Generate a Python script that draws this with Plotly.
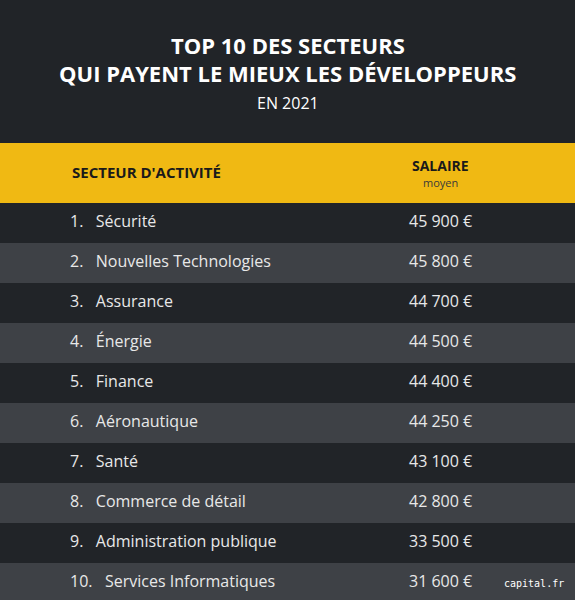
import plotly.graph_objects as go

rangs = [1, 2, 3, 4, 5, 6, 7, 8, 9, 10]
secteurs = ["Sécurité", "Nouvelles Technologies", "Assurance", "Énergie", "Finance",
            "Aéronautique", "Santé", "Commerce de détail", "Administration publique",
            "Services Informatiques"]
salaires = [45900, 45800, 44700, 44500, 44400, 44250, 43100, 42800, 33500, 31600]

bg = "#212428"
alt = "#3e4146"
jaune = "#f0b913"
nb = "\u00a0"

labels = [f"{r}.{nb*3}{s}" for r, s in zip(rangs, secteurs)]
montants = [f"{v:,}".replace(",", nb) + nb + "€" for v in salaires]
fills = [bg if i % 2 == 0 else alt for i in range(len(rangs))]

fig = go.Figure()
# bandes de lignes
fig.add_trace(go.Bar(y=rangs, x=[575] * len(rangs), orientation="h", width=1,
                     marker=dict(color=fills, line_width=0), hoverinfo="skip"))
fig.add_trace(go.Scatter(y=rangs, x=[70] * len(rangs), text=labels, mode="text",
                         textposition="middle right",
                         textfont=dict(family="Open Sans", size=16, color="#e8e8e8")))
fig.add_trace(go.Scatter(y=rangs, x=[409] * len(rangs), text=montants, mode="text",
                         textposition="middle right",
                         textfont=dict(family="Open Sans", size=16, color="#e8e8e8")))

fig.update_layout(
    width=575, height=600, margin=dict(l=0, r=0, t=0, b=0),
    paper_bgcolor=bg, plot_bgcolor=bg, showlegend=False, bargap=0,
    xaxis=dict(range=[0, 575], visible=False, fixedrange=True),
    yaxis=dict(range=[10.425, 0.5], domain=[0, 397 / 600], visible=False, fixedrange=True),
    shapes=[dict(type="rect", xref="paper", yref="paper", x0=0, x1=1,
                 y0=1 - 203 / 600, y1=1 - 143 / 600, fillcolor=jaune, line_width=0)],
    annotations=[
        dict(text="<b>TOP 10 DES SECTEURS</b>",
             x=0.5, y=1 - 45 / 600, xref="paper", yref="paper", xanchor="center", yanchor="middle",
             showarrow=False, font=dict(family="Open Sans", size=22, color="white")),
        dict(text="<b>QUI PAYENT LE MIEUX LES DÉVELOPPEURS</b>",
             x=0.5, y=1 - 73 / 600, xref="paper", yref="paper", xanchor="center", yanchor="middle",
             showarrow=False, font=dict(family="Open Sans", size=22, color="white")),
        dict(text="EN 2021", x=0.5, y=1 - 103 / 600, xref="paper", yref="paper",
             xanchor="center", yanchor="middle", showarrow=False,
             font=dict(family="Open Sans", size=16, color="white")),
        dict(text="<b>SECTEUR D'ACTIVITÉ</b>", x=70 / 575, y=1 - 172 / 600, xref="paper",
             yref="paper", xanchor="left", yanchor="middle", showarrow=False,
             font=dict(family="Open Sans", size=15, color="#1a1a1a")),
        dict(text="<b>SALAIRE</b>", x=440 / 575, y=1 - 165 / 600, xref="paper",
             yref="paper", xanchor="center", yanchor="middle", showarrow=False,
             font=dict(family="Open Sans", size=14, color="#1a1a1a")),
        dict(text="moyen", x=440 / 575, y=1 - 182 / 600, xref="paper",
             yref="paper", xanchor="center", yanchor="middle", showarrow=False,
             font=dict(family="Open Sans", size=11, color="#3a3a3a")),
        dict(text="capital.fr", x=0.985, y=1 - 583 / 600, xref="paper", yref="paper",
             xanchor="right", yanchor="middle", showarrow=False,
             font=dict(family="DejaVu Sans Mono", size=10, color="white")),
    ],
)

fig.write_html("out.html", config={"displayModeBar": False},
               post_script="document.body.style.margin='0';")
